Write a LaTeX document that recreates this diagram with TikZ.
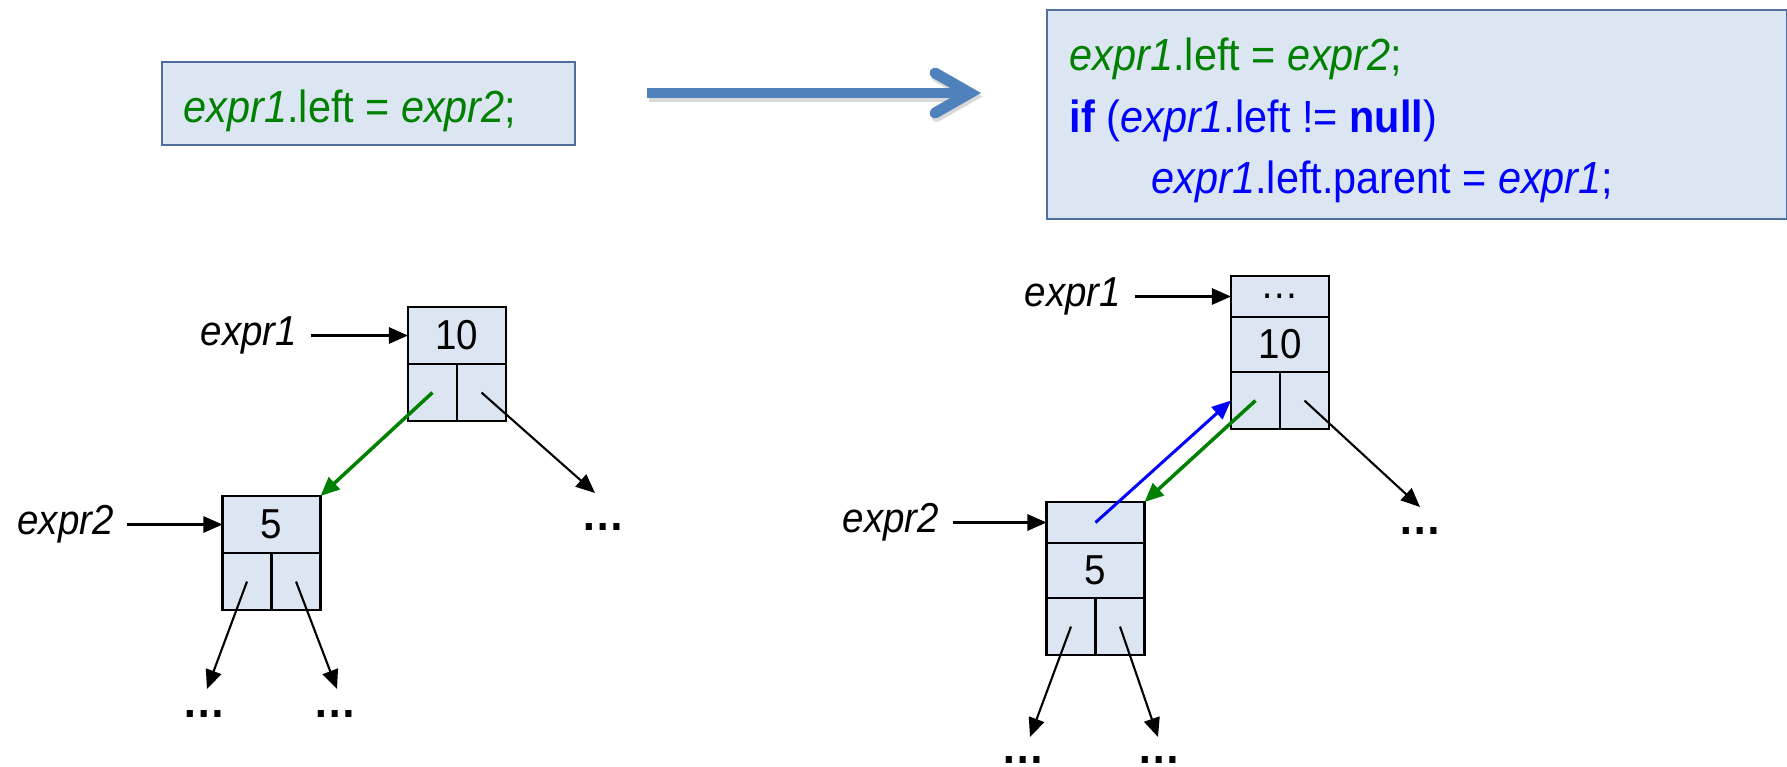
\documentclass[tikz,border=0pt]{standalone}
\usepackage{xcolor}
\usepackage{fontspec}
\setmainfont{Liberation Sans}[FakeStretch=0.92]
\usepackage{tikz}
\usetikzlibrary{calc}
\usetikzlibrary{arrows.meta}
\usetikzlibrary{positioning}
\definecolor{cellfill}{RGB}{220,230,242}
\definecolor{boxline}{RGB}{79,110,155}
\definecolor{bigblue}{RGB}{79,129,189}
\definecolor{codegreen}{RGB}{0,128,0}
\definecolor{codeblue}{RGB}{0,0,255}
\newcommand{\codefont}{\fontsize{12.8}{17.5}\selectfont}
\newcommand{\lblfont}{\fontsize{11.9}{13}\selectfont}
\newcommand{\morefont}{\fontsize{13.4}{14}\selectfont\bfseries}
\tikzset{
 cell/.style={draw=black, line width=0.75pt, fill=cellfill, outer sep=0pt, inner sep=0pt,
  minimum width=0.98cm, minimum height=0.57cm, font=\lblfont},
 half/.style={cell, minimum width=0.49cm},
 ptr/.style={font=\lblfont\itshape, inner xsep=0.13cm, inner ysep=0pt},
 more/.style={font=\morefont, inner sep=0pt, anchor=base},
 codebox/.style={draw=boxline, line width=0.6pt, fill=cellfill, inner sep=0pt, anchor=north west},
 code/.style={font=\codefont, anchor=base west, inner sep=0pt},
 link/.style={black, line width=0.6pt, ->},
 newlink/.style={codegreen, line width=1pt, ->},
 backlink/.style={codeblue, line width=0.85pt, ->},
 >={Triangle[length=5.4pt,width=4.6pt]}
}

\begin{document}
\begin{tikzpicture}[x=0.01cm, y=-0.01cm]
\useasboundingbox (0,0) rectangle (1787,766);

\node[codebox, minimum width=4.13cm, minimum height=0.83cm] (srcbox) at (161,61) {};
\node[code, text=codegreen] (src) at (183,122) {\textit{expr1}.left = \textit{expr2};};

\node[codebox, minimum width=7.4cm, minimum height=2.09cm] (dstbox) at (1046,9) {};
\node[code, text=codegreen] (dst1) at (1069,70) {\textit{expr1}.left = \textit{expr2};};
\node[code, text=codeblue] (dst2) at (1069,132) {\textbf{if} (\textit{expr1}.left != \textbf{null})};
\node[code, text=codeblue] (dst3) at (1151,193) {\textit{expr1}.left.parent = \textit{expr1};};

\foreach \dx/\dy/\col in {1.5/3.5/black!15, 0/0/bigblue} {
 \draw[\col, line width=3.1pt] (647+\dx,93+\dy) -- (962+\dx,93+\dy);
 \draw[\col, line width=3.1pt, line cap=round, line join=miter]
  (935+\dx,73+\dy) -- (970+\dx,93+\dy) -- (935+\dx,113+\dy);
}

\node[cell] (a10) at (457,335.5) {10};
\node[half, anchor=north west] (a10l) at (a10.south west) {};
\node[half, anchor=north east] (a10r) at (a10.south east) {};
\node[ptr, left=0.97cm of a10] (p1) {expr1};

\node[cell] (a5) at (271.5,524.5) {5};
\node[half, anchor=north west] (a5l) at (a5.south west) {};
\node[half, anchor=north east] (a5r) at (a5.south east) {};
\node[ptr, left=0.95cm of a5] (p2) {expr2};

\node[more] (m10) at (603,530) {…};
\node[more] (m5l) at (204,717) {…};
\node[more] (m5r) at (335,717) {…};
\coordinate (e10) at (595,493);
\coordinate (e5l) at (207,689);
\coordinate (e5r) at (337,689);

\draw[link] (p1) -- (a10);
\draw[link] (p2) -- (a5);
\draw[newlink] (a10l.center) -- (a5.north east);
\draw[link] (a10r.center) -- (e10);
\draw[link] (a5l.center) -- (e5l);
\draw[link] (a5r.center) -- (e5r);

\node[cell, minimum height=0.41cm] (btop) at (1280,296.5) {…};
\node[cell, minimum height=0.55cm, anchor=north] (b10) at (btop.south) {10};
\node[half, anchor=north west] (b10l) at (b10.south west) {};
\node[half, anchor=north east] (b10r) at (b10.south east) {};
\node[ptr, left=0.96cm of btop] (q1) {expr1};

\node[cell, minimum height=0.41cm] (ctop) at (1095.5,522.5) {};
\node[cell, minimum height=0.55cm, anchor=north] (c5) at (ctop.south) {5};
\node[half, anchor=north west] (c5l) at (c5.south west) {};
\node[half, anchor=north east] (c5r) at (c5.south east) {};
\node[ptr, left=0.935cm of ctop] (q2) {expr2};

\node[more] (n10) at (1420.5,534) {…};
\node[more] (n5l) at (1023.5,763) {…};
\node[more] (n5r) at (1159.5,763) {…};
\coordinate (f10) at (1420,507);
\coordinate (f5l) at (1030,737);
\coordinate (f5r) at (1158,737);

\draw[link] (q1) -- (btop);
\draw[link] (q2) -- (ctop);
\draw[backlink] (ctop.center) -- (b10l.west);
\draw[newlink] (b10l.center) -- (ctop.north east);
\draw[link] (b10r.center) -- (f10);
\draw[link] (c5l.center) -- (f5l);
\draw[link] (c5r.center) -- (f5r);
\end{tikzpicture}
\end{document}
